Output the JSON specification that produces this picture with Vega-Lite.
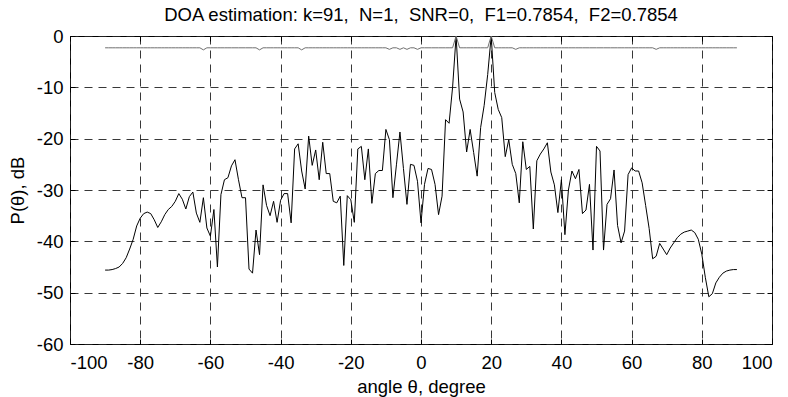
{
  "$schema": "https://vega.github.io/schema/vega-lite/v6.json",
  "width": 702,
  "height": 308,
  "autosize": {"type": "none"},
  "padding": {"left": 70, "top": 36, "right": 16, "bottom": 53},
  "background": "white",
  "title": {
    "text": "DOA estimation: k=91, \u00a0N=1, \u00a0SNR=0, \u00a0F1=0.7854, \u00a0F2=0.7854",
    "fontSize": 18.5,
    "font": "Liberation Sans",
    "fontWeight": "normal",
    "color": "black",
    "anchor": "middle",
    "baseline": "alphabetic",
    "offset": -12
  },
  "config": {
    "font": "Liberation Sans",
    "view": {"stroke": "black", "strokeWidth": 1},
    "axis": {
      "domain": false,
      "labelFont": "Liberation Sans",
      "labelFontSize": 18.5,
      "labelColor": "black",
      "labelExpr": "'' + datum.value",
      "titleFont": "Liberation Sans",
      "titleFontSize": 18.5,
      "titleFontWeight": "normal",
      "titleColor": "black",
      "tickColor": "black",
      "tickSize": -5,
      "gridColor": "#222",
      "gridDash": [8, 6],
      "gridWidth": 1,
      "gridOpacity": 0.9
    }
  },
  "data": {
    "values": [
      {"a": -90, "p": -45.6, "q": -2.3}, {"a": -89, "p": -45.6, "q": -2.3}, {"a": -88, "p": -45.5, "q": -2.3},
      {"a": -87, "p": -45.3, "q": -2.3}, {"a": -86, "p": -45.0, "q": -2.3}, {"a": -85, "p": -44.3, "q": -2.3},
      {"a": -84, "p": -43.2, "q": -2.3}, {"a": -83, "p": -41.5, "q": -2.3}, {"a": -82, "p": -39.6, "q": -2.3},
      {"a": -81, "p": -37.0, "q": -2.3}, {"a": -80, "p": -35.5, "q": -2.3}, {"a": -79, "p": -34.6, "q": -2.3},
      {"a": -78, "p": -34.3, "q": -2.3}, {"a": -77, "p": -34.6, "q": -2.3}, {"a": -76, "p": -35.8, "q": -2.3},
      {"a": -75, "p": -37.3, "q": -2.3}, {"a": -74, "p": -36.2, "q": -2.3}, {"a": -73, "p": -34.8, "q": -2.3},
      {"a": -72, "p": -33.8, "q": -2.3}, {"a": -71, "p": -33.2, "q": -2.3}, {"a": -70, "p": -32.2, "q": -2.3},
      {"a": -69, "p": -30.7, "q": -2.3}, {"a": -68, "p": -31.8, "q": -2.3}, {"a": -67, "p": -33.7, "q": -2.3},
      {"a": -66, "p": -31.3, "q": -2.3}, {"a": -65, "p": -30.4, "q": -2.3}, {"a": -64, "p": -34.5, "q": -2.3},
      {"a": -63, "p": -36.3, "q": -2.3}, {"a": -62, "p": -31.5, "q": -2.7}, {"a": -61, "p": -37.4, "q": -2.3},
      {"a": -60, "p": -39.0, "q": -2.3}, {"a": -59, "p": -33.8, "q": -2.3}, {"a": -58, "p": -45.0, "q": -2.3},
      {"a": -57, "p": -30.9, "q": -2.3}, {"a": -56, "p": -28.0, "q": -2.3}, {"a": -55, "p": -27.6, "q": -2.3},
      {"a": -54, "p": -25.3, "q": -2.3}, {"a": -53, "p": -24.1, "q": -2.3}, {"a": -52, "p": -28.0, "q": -2.3},
      {"a": -51, "p": -31.5, "q": -2.3}, {"a": -50, "p": -31.5, "q": -2.3}, {"a": -49, "p": -45.4, "q": -2.3},
      {"a": -48, "p": -46.2, "q": -2.3}, {"a": -47, "p": -37.8, "q": -2.3}, {"a": -46, "p": -42.6, "q": -2.7},
      {"a": -45, "p": -29.0, "q": -2.3}, {"a": -44, "p": -33.0, "q": -2.3}, {"a": -43, "p": -35.0, "q": -2.3},
      {"a": -42, "p": -32.2, "q": -2.3}, {"a": -41, "p": -36.3, "q": -2.3}, {"a": -40, "p": -32.0, "q": -2.3},
      {"a": -39, "p": -30.7, "q": -2.3}, {"a": -38, "p": -30.7, "q": -2.3}, {"a": -37, "p": -36.4, "q": -2.3},
      {"a": -36, "p": -22.0, "q": -2.3}, {"a": -35, "p": -21.0, "q": -2.3}, {"a": -34, "p": -26.3, "q": -2.7},
      {"a": -33, "p": -29.8, "q": -2.3}, {"a": -32, "p": -19.5, "q": -2.3}, {"a": -31, "p": -25.2, "q": -2.3},
      {"a": -30, "p": -22.2, "q": -2.3}, {"a": -29, "p": -28.0, "q": -2.3}, {"a": -28, "p": -20.7, "q": -2.3},
      {"a": -27, "p": -26.8, "q": -2.3}, {"a": -26, "p": -26.8, "q": -2.3}, {"a": -25, "p": -32.2, "q": -2.3},
      {"a": -24, "p": -32.5, "q": -2.3}, {"a": -23, "p": -31.2, "q": -2.3}, {"a": -22, "p": -44.7, "q": -2.3},
      {"a": -21, "p": -31.1, "q": -2.3}, {"a": -20, "p": -31.9, "q": -2.3}, {"a": -19, "p": -36.3, "q": -2.3},
      {"a": -18, "p": -22.0, "q": -2.3}, {"a": -17, "p": -21.5, "q": -2.3}, {"a": -16, "p": -28.0, "q": -2.3},
      {"a": -15, "p": -22.0, "q": -2.3}, {"a": -14, "p": -32.6, "q": -2.3}, {"a": -13, "p": -26.8, "q": -2.3},
      {"a": -12, "p": -26.2, "q": -2.3}, {"a": -11, "p": -26.2, "q": -2.3}, {"a": -10, "p": -18.2, "q": -2.3},
      {"a": -9, "p": -20.2, "q": -2.6}, {"a": -8, "p": -31.5, "q": -2.3}, {"a": -7, "p": -25.1, "q": -2.3},
      {"a": -6, "p": -18.7, "q": -2.6}, {"a": -5, "p": -25.8, "q": -2.3}, {"a": -4, "p": -32.8, "q": -2.6},
      {"a": -3, "p": -25.0, "q": -2.3}, {"a": -2, "p": -25.2, "q": -2.3}, {"a": -1, "p": -28.3, "q": -2.6},
      {"a": 0, "p": -36.4, "q": -2.3}, {"a": 1, "p": -28.9, "q": -2.3}, {"a": 2, "p": -25.8, "q": -2.3},
      {"a": 3, "p": -26.0, "q": -2.3}, {"a": 4, "p": -28.9, "q": -2.3}, {"a": 5, "p": -34.8, "q": -2.3},
      {"a": 6, "p": -31.2, "q": -2.3}, {"a": 7, "p": -16.3, "q": -2.3}, {"a": 8, "p": -17.0, "q": -2.3},
      {"a": 9, "p": -10.0, "q": -2.3}, {"a": 10, "p": 0, "q": 0}, {"a": 11, "p": -12.3, "q": -2.3},
      {"a": 12, "p": -14.8, "q": -2.3}, {"a": 13, "p": -22.6, "q": -2.3}, {"a": 14, "p": -18.2, "q": -2.3},
      {"a": 15, "p": -22.7, "q": -2.3}, {"a": 16, "p": -27.3, "q": -2.3}, {"a": 17, "p": -17.8, "q": -2.3},
      {"a": 18, "p": -13.5, "q": -2.3}, {"a": 19, "p": -7.5, "q": -2.3}, {"a": 20, "p": 0, "q": 0},
      {"a": 21, "p": -11.0, "q": -2.3}, {"a": 22, "p": -14.3, "q": -2.3}, {"a": 23, "p": -15.9, "q": -2.3},
      {"a": 24, "p": -23.5, "q": -2.3}, {"a": 25, "p": -20.2, "q": -2.3}, {"a": 26, "p": -25.0, "q": -2.3},
      {"a": 27, "p": -26.8, "q": -2.6}, {"a": 28, "p": -32.5, "q": -2.3}, {"a": 29, "p": -20.6, "q": -2.3},
      {"a": 30, "p": -26.0, "q": -2.3}, {"a": 31, "p": -25.4, "q": -2.3}, {"a": 32, "p": -37.6, "q": -2.3},
      {"a": 33, "p": -24.3, "q": -2.3}, {"a": 34, "p": -23.0, "q": -2.3}, {"a": 35, "p": -22.0, "q": -2.3},
      {"a": 36, "p": -20.8, "q": -2.3}, {"a": 37, "p": -26.5, "q": -2.3}, {"a": 38, "p": -29.0, "q": -2.3},
      {"a": 39, "p": -34.4, "q": -2.3}, {"a": 40, "p": -28.0, "q": -2.3}, {"a": 41, "p": -38.7, "q": -2.3},
      {"a": 42, "p": -30.0, "q": -2.3}, {"a": 43, "p": -26.3, "q": -2.3}, {"a": 44, "p": -27.8, "q": -2.3},
      {"a": 45, "p": -26.0, "q": -2.3}, {"a": 46, "p": -34.6, "q": -2.3}, {"a": 47, "p": -33.9, "q": -2.3},
      {"a": 48, "p": -28.9, "q": -2.3}, {"a": 49, "p": -41.7, "q": -2.3}, {"a": 50, "p": -21.5, "q": -2.3},
      {"a": 51, "p": -22.4, "q": -2.3}, {"a": 52, "p": -41.7, "q": -2.3}, {"a": 53, "p": -32.8, "q": -2.3},
      {"a": 54, "p": -31.7, "q": -2.3}, {"a": 55, "p": -26.1, "q": -2.3}, {"a": 56, "p": -36.9, "q": -2.3},
      {"a": 57, "p": -40.3, "q": -2.3}, {"a": 58, "p": -38.0, "q": -2.3}, {"a": 59, "p": -27.0, "q": -2.3},
      {"a": 60, "p": -25.7, "q": -2.3}, {"a": 61, "p": -26.3, "q": -2.3}, {"a": 62, "p": -26.3, "q": -2.3},
      {"a": 63, "p": -28.6, "q": -2.3}, {"a": 64, "p": -33.0, "q": -2.3}, {"a": 65, "p": -37.5, "q": -2.3},
      {"a": 66, "p": -43.4, "q": -2.3}, {"a": 67, "p": -42.9, "q": -2.6}, {"a": 68, "p": -40.4, "q": -2.3},
      {"a": 69, "p": -41.5, "q": -2.3}, {"a": 70, "p": -42.6, "q": -2.3}, {"a": 71, "p": -41.3, "q": -2.3},
      {"a": 72, "p": -40.3, "q": -2.3}, {"a": 73, "p": -39.3, "q": -2.3}, {"a": 74, "p": -38.6, "q": -2.3},
      {"a": 75, "p": -38.2, "q": -2.3}, {"a": 76, "p": -38.0, "q": -2.3}, {"a": 77, "p": -37.8, "q": -2.3},
      {"a": 78, "p": -38.3, "q": -2.3}, {"a": 79, "p": -39.6, "q": -2.3}, {"a": 80, "p": -42.5, "q": -2.3},
      {"a": 81, "p": -47.0, "q": -2.3}, {"a": 82, "p": -50.8, "q": -2.3}, {"a": 83, "p": -50.2, "q": -2.3},
      {"a": 84, "p": -48.1, "q": -2.3}, {"a": 85, "p": -47.0, "q": -2.3}, {"a": 86, "p": -46.2, "q": -2.3},
      {"a": 87, "p": -45.8, "q": -2.3}, {"a": 88, "p": -45.6, "q": -2.3}, {"a": 89, "p": -45.5, "q": -2.3},
      {"a": 90, "p": -45.5, "q": -2.3}
    ]
  },
  "layer": [
    {
      "mark": {"type": "line", "color": "black", "strokeWidth": 1, "clip": true},
      "encoding": {
        "x": {
          "field": "a", "type": "quantitative",
          "scale": {"domain": [-100, 100], "nice": false},
          "axis": {"orient": "bottom", "title": "angle θ, degree", "values": [-100, -80, -60, -40, -20, 0, 20, 40, 60, 80, 100], "grid": true, "labelPadding": 14, "titlePadding": 6}
        },
        "y": {
          "field": "p", "type": "quantitative",
          "scale": {"domain": [-60, 0], "nice": false, "zero": false},
          "axis": {"orient": "left", "title": "P(θ), dB", "values": [-60, -50, -40, -30, -20, -10, 0], "grid": true, "labelPadding": 12, "titlePadding": 9}
        }
      }
    },
    {
      "mark": {"type": "line", "color": "#707070", "strokeWidth": 1, "clip": true},
      "encoding": {
        "x": {
          "field": "a", "type": "quantitative",
          "axis": {"orient": "top", "title": null, "labels": false, "grid": false, "values": [-100, -80, -60, -40, -20, 0, 20, 40, 60, 80, 100]}
        },
        "y": {
          "field": "q", "type": "quantitative",
          "axis": {"orient": "right", "title": null, "labels": false, "grid": false, "values": [-60, -50, -40, -30, -20, -10, 0]}
        }
      }
    }
  ],
  "resolve": {"axis": {"x": "independent", "y": "independent"}}
}
